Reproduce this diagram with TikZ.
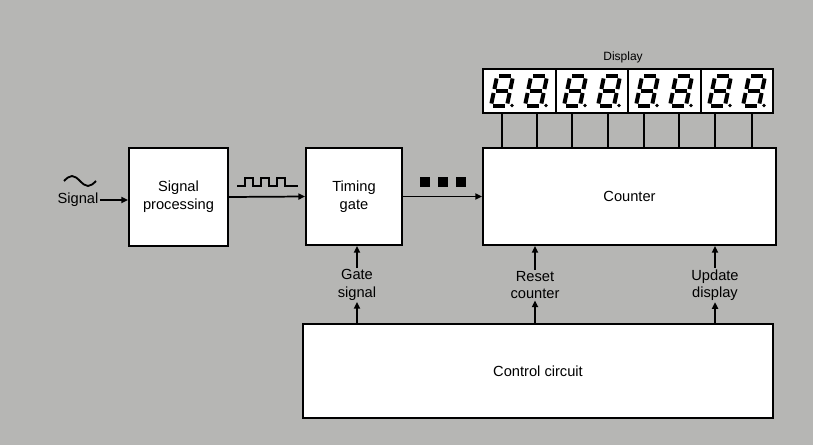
\documentclass[tikz,border=0pt]{standalone}
\usepackage{fontspec}
\setmainfont{Liberation Sans}
\usetikzlibrary{arrows.meta}
\definecolor{bgc}{RGB}{182,182,180}
\tikzset{
  box/.style={draw=black, fill=white, line width=1.4pt, inner sep=0pt, align=center, font=\fontsize{11}{13.5}\selectfont},
  conn/.style={line width=1.3pt, -{Triangle[length=5pt,width=4.5pt]}},
  plain/.style={line width=1.5pt},
  lbl/.style={fill=bgc, inner sep=1pt, align=center, font=\fontsize{11}{13}\selectfont},
  seg/.style={line width=3pt, line cap=butt},
  pics/sevenseg/.style={code={
    \draw[seg] (8,0) -- (20,0);
    \draw[seg] (5.6,2.5) -- (3.4,13);
    \draw[seg] (21.6,2.5) -- (19.4,13);
    \draw[seg] (5,15) -- (17,15);
    \draw[seg] (2.6,17) -- (0.4,27.5);
    \draw[seg] (18.6,17) -- (16.4,27.5);
    \draw[seg] (2,30) -- (14,30);
    \fill (21,29.5) circle (1.8);
  }}
}
\begin{document}
\begin{tikzpicture}[x=0.75pt, y=-0.75pt]
\fill[bgc] (0,0) rectangle (813,445);
\useasboundingbox (0,0) rectangle (813,445);

% boxes
\node[box, minimum width=74.25pt, minimum height=73.5pt] (sp) at (178.5,197) {Signal\\processing};
\node[box, minimum width=72pt, minimum height=72.75pt] (tg) at (354,196.5) {Timing\\gate};
\node[box, minimum width=219.75pt, minimum height=72.75pt] (cnt) at (629.5,196.5) {Counter};
\node[box, minimum width=352.5pt, minimum height=70.5pt] (ctrl) at (538,371) {Control circuit};
\node[draw=black, fill=white, line width=1.4pt, minimum width=217.5pt, minimum height=33pt, inner sep=0pt] (disp) at (628,91) {};
\node[font=\fontsize{9}{10}\selectfont, inner sep=1pt] (displbl) at (623,57) {Display};

% display module separators
\foreach \xx in {556,628,701} {
  \draw[line width=1.2pt] (\xx,69) -- (\xx,113);
}
% digits
\foreach \m in {483,556,628,701} {
  \pic at (\m+8,76) {sevenseg};
  \pic at (\m+42,76) {sevenseg};
}

% display connection lines
\foreach \i/\xx in {1/502,2/537,3/572,4/608,5/644,6/679,7/715,8/752} {
  \coordinate (d\i) at (\xx,130);
  \draw[plain] (disp.south -| d\i) -- (cnt.north -| d\i);
}

% signal input
\node[inner sep=1pt, font=\fontsize{11}{13}\selectfont] (sig) at (78,200) {Signal};
\draw[line width=1.4pt] (64,181) sin (72,176) cos (80,181) sin (88,186) cos (96,181);
\draw[conn] (sig.east) -- (sig.east -| sp.west);

% main chain
\draw[conn] (sp.east) -- (tg.west);
\draw[conn] (tg.east) -- (cnt.west);

% square wave
\draw[line width=1.3pt] (237,186) -- (245,186) -- (245,178) -- (253,178) -- (253,186) -- (261,186) -- (261,178) -- (269,178) -- (269,186) -- (277,186) -- (277,178) -- (285,178) -- (285,186) -- (298,186);
% pulses
\foreach \xx in {420,438,456} {
  \fill (\xx,177) rectangle (\xx+10,187);
}

% control lines
\node[lbl] (gs) at (357,285) {Gate\\signal};
\node[lbl] (rc) at (535,285) {Reset\\counter};
\node[lbl] (ud) at (715,285) {Update\\display};
\foreach \l/\t in {gs/tg, rc/cnt, ud/cnt} {
  \draw[conn] (ctrl.north -| \l) -- (\l.south);
  \draw[conn] (\l.north) -- (\t.south -| \l);
}
\end{tikzpicture}
\end{document}
